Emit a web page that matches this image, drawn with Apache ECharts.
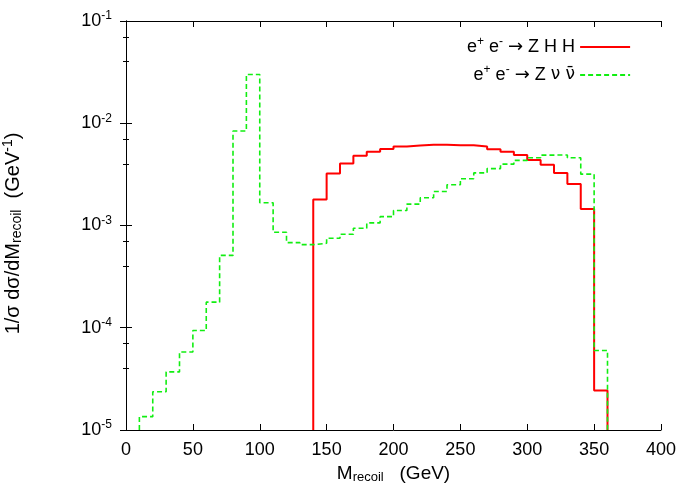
<!DOCTYPE html>
<html>
<head>
<meta charset="utf-8">
<script src="https://cdn.jsdelivr.net/npm/echarts@6/dist/echarts.min.js"></script>
<style>
    html, body { margin: 0; padding: 0; background: #fff; }
    #chart { width: 692px; height: 485px; }
</style>
</head>
<body>
<div id="chart"></div>
<script>
// Bin left edges (GeV), 10 GeV wide, last bin ends at 360
var binLeft = [10, 20, 30, 40, 50, 60, 70, 80, 90, 100, 110, 120, 130, 140, 150, 160, 170, 180,
    190, 200, 210, 220, 230, 240, 250, 260, 270, 280, 290, 300, 310, 320, 330, 340, 350];
var binWidth = 10;

// e+ e- -> Z H H (starts at 140 GeV)
var zhhValues = [null, null, null, null, null, null, null, null, null, null, null, null, null,
    1.80e-3, 3.23e-3, 4.05e-3, 4.80e-3, 5.26e-3, 5.60e-3, 5.93e-3, 6.07e-3, 6.15e-3, 6.15e-3,
    6.10e-3, 6.08e-3, 5.93e-3, 5.58e-3, 5.26e-3, 4.90e-3, 4.38e-3, 3.92e-3, 3.27e-3, 2.54e-3,
    1.45e-3, 2.44e-5];

// e+ e- -> Z nu nubar
var zvvValues = [1.35e-5, 2.37e-5, 3.7e-5, 5.8e-5, 9.4e-5, 1.78e-4, 5.1e-4, 8.4e-3, 3.0e-2,
    1.67e-3, 8.6e-4, 6.8e-4, 6.5e-4, 6.7e-4, 7.5e-4, 8.2e-4, 9.4e-4, 1.06e-3, 1.22e-3, 1.40e-3,
    1.62e-3, 1.87e-3, 2.15e-3, 2.5e-3, 2.87e-3, 3.27e-3, 3.6e-3, 3.98e-3, 4.33e-3, 4.6e-3,
    4.88e-3, 4.9e-3, 4.6e-3, 3.18e-3, 6.0e-5];

var yMin = 1e-5, yMax = 1e-1;
var xTicks = { min: 0, max: 400, interval: 50 };

/**
 * Turns bin values into step points, dropping to the axis floor at both ends.
 */
function histPoints(values) {
    var pts = [];
    var last = null;
    for (var i = 0; i < binLeft.length; i++) {
        if (values[i] == null) continue;
        if (last === null) pts.push([binLeft[i], yMin]);
        pts.push([binLeft[i], values[i]]);
        last = i;
    }
    pts.push([binLeft[last] + binWidth, yMin]);
    return pts;
}

var font = "Liberation Sans";
var supRich = {
    n: { fontFamily: font, fontSize: 18, color: "#000" },
    nu: { fontFamily: "DejaVu Sans", fontSize: 17, color: "#000" },
    arr: { fontFamily: "DejaVu Sans", fontSize: 18, color: "#000" },
    sup: { fontFamily: font, fontSize: 12, color: "#000", padding: [0, 0, 10, 0] },
    sub: { fontFamily: font, fontSize: 12, color: "#000", padding: [7, 0, 0, 0] }
};
// Slightly larger text for the axis titles
var titleRich = {
    n: { fontFamily: font, fontSize: 20, color: "#000" },
    sup: { fontFamily: font, fontSize: 14, color: "#000", padding: [0, 0, 11, 0] },
    sub: { fontFamily: font, fontSize: 14, color: "#000", padding: [8, 0, 0, 0] }
};
var xTitleRich = {
    n: { fontFamily: font, fontSize: 19, color: "#000" },
    sub: { fontFamily: font, fontSize: 13, color: "#000", padding: [8, 0, 0, 0] }
};

var axisLineStyle = { color: "#000", width: 1 };

var chart = echarts.init(document.getElementById("chart"));
chart.setOption({
    animation: false,
    grid: {
        left: 126, top: 21, right: 31, bottom: 55,
        outerBoundsMode: "none",
        containLabel: false
    },
    legend: {
        orient: "vertical",
        left: 462,
        top: 31,
        itemGap: 8,
        itemWidth: 50,
        itemHeight: 14,
        align: "right",
        data: ["zhh", "zvv"],
        itemStyle: { opacity: 0 },
        formatter: function (name) {
            if (name === "zhh") return "{n|e}{sup|+} {n|e}{sup|-} {arr|\u2192}{n| Z H H}";
            return "{n|e}{sup|+} {n|e}{sup|-} {arr|\u2192}{n| Z }{nu|\u03bd \u03bd\u0304}";
        },
        textStyle: {
            width: 122,
            fontFamily: font,
            fontSize: 18,
            rich: supRich
        }
    },
    xAxis: [
        {
            type: "value",
            min: xTicks.min, max: xTicks.max, interval: xTicks.interval,
            position: "bottom",
            name: "{n|M}{sub|recoil}{n|   (GeV)}",
            nameLocation: "middle",
            nameGap: 32,
            nameTextStyle: { rich: xTitleRich },
            axisLine: { show: true, lineStyle: axisLineStyle },
            axisTick: { inside: true, length: 6, lineStyle: axisLineStyle },
            axisLabel: { margin: 11, fontFamily: font, fontSize: 18, color: "#000" },
            splitLine: { show: false }
        },
        {
            type: "value",
            min: xTicks.min, max: xTicks.max, interval: xTicks.interval,
            position: "top",
            axisLine: { show: true, lineStyle: axisLineStyle },
            axisTick: { inside: true, length: 6, lineStyle: axisLineStyle },
            axisLabel: { show: false },
            splitLine: { show: false }
        }
    ],
    yAxis: [
        {
            type: "log",
            logBase: 10,
            min: yMin, max: yMax,
            position: "left",
            name: "{n|1/\u03c3 d\u03c3/dM}{sub|recoil}{n|  (GeV}{sup|-1}{n|)}",
            nameLocation: "middle",
            nameRotate: 90,
            nameGap: 100,
            nameTextStyle: { rich: titleRich, padding: [0, 16, 0, 0] },
            axisLine: { show: true, lineStyle: axisLineStyle },
            axisTick: { inside: true, length: 6, lineStyle: axisLineStyle },
            minorTick: { show: true, splitNumber: 3, length: 3, lineStyle: axisLineStyle },
            axisLabel: {
                margin: 14,
                formatter: function (v) {
                    return "{n|10}{sup|" + Math.round(Math.log10(v)) + "}";
                },
                rich: supRich
            },
            splitLine: { show: false }
        },
        {
            type: "log",
            logBase: 10,
            min: yMin, max: yMax,
            position: "right",
            axisLine: { show: true, lineStyle: axisLineStyle },
            axisTick: { inside: true, length: 6, lineStyle: axisLineStyle },
            minorTick: { show: true, splitNumber: 3, length: 3, lineStyle: axisLineStyle },
            axisLabel: { show: false },
            splitLine: { show: false }
        }
    ],
    series: [
        {
            name: "zhh",
            type: "line",
            step: "end",
            xAxisIndex: 0,
            yAxisIndex: 0,
            symbol: "none",
            clip: true,
            data: histPoints(zhhValues),
            lineStyle: { color: "#ff0000", width: 2 },
            itemStyle: { color: "#ff0000" },
            z: 3
        },
        {
            name: "zvv",
            type: "line",
            step: "end",
            xAxisIndex: 0,
            yAxisIndex: 0,
            symbol: "none",
            clip: true,
            data: histPoints(zvvValues),
            lineStyle: { color: "#11ee11", width: 1.6, type: [5, 3] },
            itemStyle: { color: "#11ee11" },
            z: 4
        }
    ]
});
</script>
</body>
</html>
